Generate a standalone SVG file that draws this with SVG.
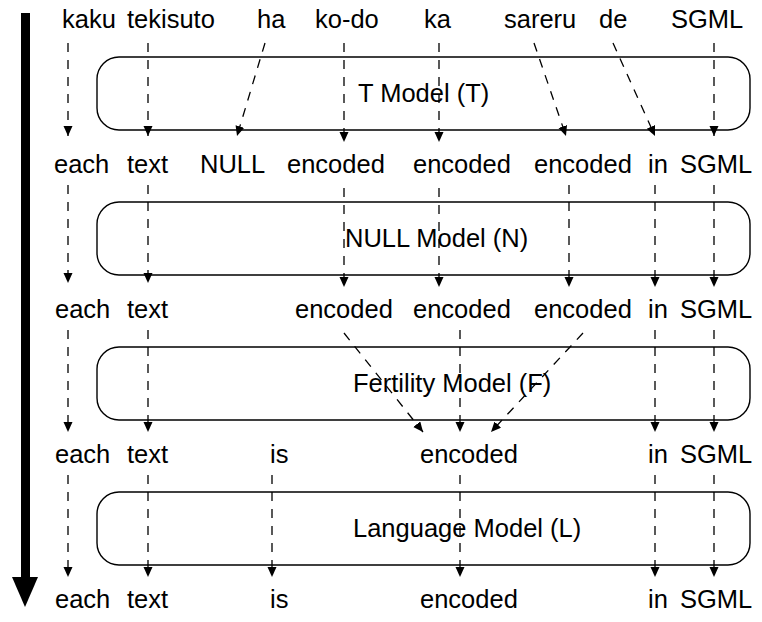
<svg xmlns="http://www.w3.org/2000/svg" width="762" height="622" viewBox="0 0 762 622">
<style>
  text { font-family: "Liberation Sans", Arial, sans-serif; font-size: 25.5px; fill: #000; }
  .box { fill: none; stroke: #000; stroke-width: 1.4; }
  .dl { fill: none; stroke: #000; stroke-width: 1.3; stroke-dasharray: 9 8; marker-end: url(#ah); }
</style>
<defs>
  <marker id="ah" markerUnits="userSpaceOnUse" markerWidth="10" markerHeight="11" refX="10" refY="4.5" orient="auto">
    <path d="M0,0 L10,4.5 L0,9 z" fill="#000"/>
  </marker>
</defs>
<rect width="762" height="622" fill="#fff"/>

<g id="time-arrow">
  <rect x="21" y="13" width="9" height="565" fill="#000"/>
  <path d="M12,577 L38,577 L25,607 z" fill="#000"/>
</g>

<g id="row1">
  <text x="62" y="28">kaku</text>
  <text x="127" y="28">tekisuto</text>
  <text x="257" y="28">ha</text>
  <text x="315" y="28">ko-do</text>
  <text x="424" y="28">ka</text>
  <text x="504" y="28">sareru</text>
  <text x="599" y="28">de</text>
  <text x="671" y="28">SGML</text>
</g>
<g id="row2">
  <text x="54" y="173">each</text>
  <text x="127" y="173">text</text>
  <text x="200" y="173">NULL</text>
  <text x="287" y="173">encoded</text>
  <text x="413" y="173">encoded</text>
  <text x="534" y="173">encoded</text>
  <text x="648" y="173">in</text>
  <text x="680" y="173">SGML</text>
</g>
<g id="row3">
  <text x="55" y="318">each</text>
  <text x="127" y="318">text</text>
  <text x="295" y="318">encoded</text>
  <text x="413" y="318">encoded</text>
  <text x="534" y="318">encoded</text>
  <text x="648" y="318">in</text>
  <text x="680" y="318">SGML</text>
</g>
<g id="row4">
  <text x="55" y="463">each</text>
  <text x="127" y="463">text</text>
  <text x="270" y="463">is</text>
  <text x="420" y="463">encoded</text>
  <text x="648" y="463">in</text>
  <text x="680" y="463">SGML</text>
</g>
<g id="row5">
  <text x="55" y="608">each</text>
  <text x="127" y="608">text</text>
  <text x="270" y="608">is</text>
  <text x="420" y="608">encoded</text>
  <text x="648" y="608">in</text>
  <text x="680" y="608">SGML</text>
</g>

<g id="t-model">
  <rect class="box" x="97" y="57" width="653" height="73" rx="22" ry="22"/>
  <text x="358" y="102">T Model (T)</text>
</g>
<g id="null-model">
  <rect class="box" x="97" y="202" width="653" height="73" rx="22" ry="22"/>
  <text x="345" y="247">NULL Model (N)</text>
</g>
<g id="fertility-model">
  <rect class="box" x="97" y="347" width="653" height="73" rx="22" ry="22"/>
  <text x="353" y="392">Fertility Model (F)</text>
</g>
<g id="language-model">
  <rect class="box" x="97" y="492" width="653" height="73" rx="22" ry="22"/>
  <text x="353" y="537">Language Model (L)</text>
</g>

<g id="connectors">
  <!-- T model -->
  <line class="dl" x1="68" y1="43" x2="68" y2="136"/>
  <line class="dl" x1="148" y1="43" x2="148" y2="136"/>
  <line class="dl" x1="265" y1="43" x2="237" y2="136"/>
  <line class="dl" x1="344" y1="43" x2="344" y2="142"/>
  <line class="dl" x1="439" y1="43" x2="439" y2="142"/>
  <line class="dl" x1="534" y1="43" x2="566" y2="136"/>
  <line class="dl" x1="613" y1="43" x2="655" y2="136"/>
  <line class="dl" x1="714" y1="43" x2="714" y2="136"/>
  <!-- NULL model -->
  <line class="dl" x1="68" y1="185" x2="68" y2="283"/>
  <line class="dl" x1="148" y1="185" x2="148" y2="283"/>
  <line class="dl" x1="344" y1="188" x2="344" y2="287"/>
  <line class="dl" x1="439" y1="188" x2="439" y2="287"/>
  <line class="dl" x1="569" y1="185" x2="569" y2="287"/>
  <line class="dl" x1="655" y1="185" x2="655" y2="287"/>
  <line class="dl" x1="714" y1="185" x2="714" y2="287"/>
  <!-- Fertility model -->
  <line class="dl" x1="68" y1="330" x2="68" y2="432"/>
  <line class="dl" x1="148" y1="330" x2="148" y2="432"/>
  <line class="dl" x1="344" y1="333" x2="423" y2="432"/>
  <line class="dl" x1="460" y1="330" x2="460" y2="432"/>
  <line class="dl" x1="583" y1="333" x2="491" y2="432"/>
  <line class="dl" x1="655" y1="330" x2="655" y2="432"/>
  <line class="dl" x1="714" y1="330" x2="714" y2="432"/>
  <!-- Language model -->
  <line class="dl" x1="68" y1="475" x2="68" y2="577"/>
  <line class="dl" x1="148" y1="475" x2="148" y2="577"/>
  <line class="dl" x1="272" y1="475" x2="272" y2="577"/>
  <line class="dl" x1="460" y1="475" x2="460" y2="577"/>
  <line class="dl" x1="655" y1="475" x2="655" y2="577"/>
  <line class="dl" x1="714" y1="475" x2="714" y2="577"/>
</g>
</svg>
